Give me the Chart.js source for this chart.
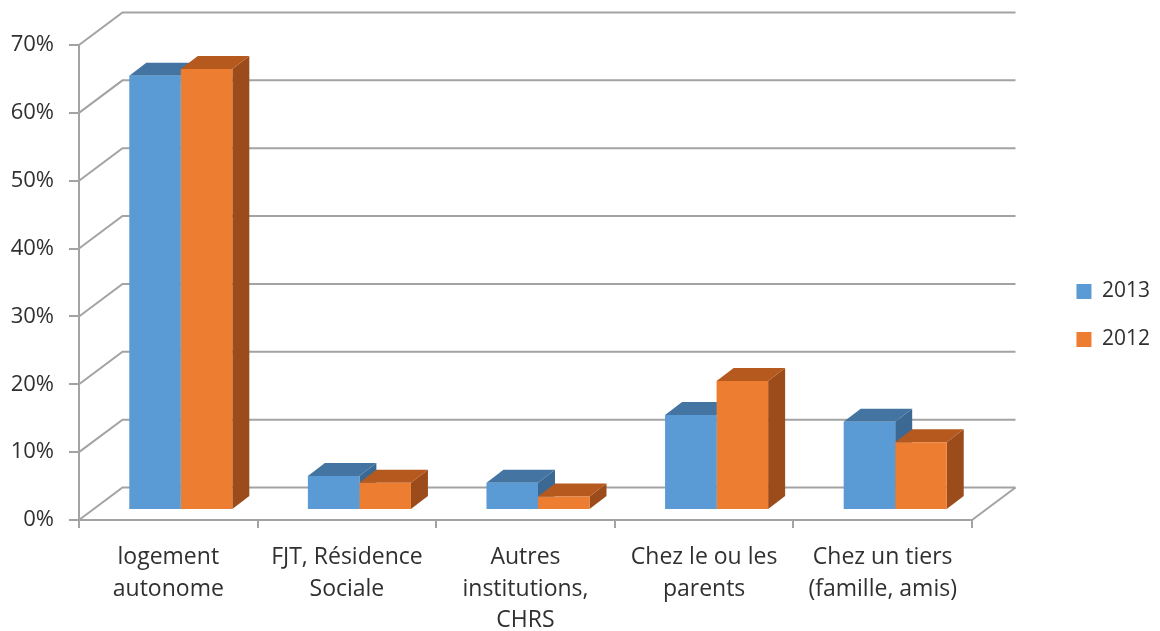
<!DOCTYPE html>
<html>
<head>
<meta charset="utf-8">
<script src="https://cdn.jsdelivr.net/npm/chart.js@4.4.1/dist/chart.umd.min.js"></script>
<style>
html,body{margin:0;padding:0;background:#ffffff;}
canvas{display:block;}
</style>
</head>
<body>
<canvas id="c" width="1160" height="631"></canvas>
<script>
// ---- data ----
const categories = [
  ['logement', 'autonome'],
  ['FJT, Résidence', 'Sociale'],
  ['Autres', 'institutions,', 'CHRS'],
  ['Chez le ou les', 'parents'],
  ['Chez un tiers', '(famille, amis)']
];
const seriesNames = ['2013', '2012'];
const values2013 = [64, 5, 4, 14, 13];
const values2012 = [65, 4, 2, 19, 10];
const yTickMin = 0, yTickMax = 70, yTickStep = 10;

// ---- style / layout ----
const FONT = '"Open Sans", "Noto Sans", sans-serif';
const TEXT = '#303030';
const GRID = '#a3a3a3';
const FRONT_LEFT = 79, FRONT_TOP = 45, FRONT_RIGHT = 972, FRONT_BOTTOM = 520, CANVAS_H = 631;
const DEPTH = {x: 43.5, y: -32.5};      // wall depth
const BAR_SHIFT = {x: 12.5, y: -10};    // bars placed inside the box
const BAR_DEPTH = {x: 17, y: -13};      // bar thickness
const faceColors = [
  {front: '#5b9bd5', top: '#4374a2', side: '#3b6993'},
  {front: '#ed7d31', top: '#b5591f', side: '#9c4b1a'}
];
let rightGap = 80;

function poly(ctx, pts, fill) {
  ctx.beginPath();
  ctx.moveTo(pts[0][0], pts[0][1]);
  for (let i = 1; i < pts.length; i++) ctx.lineTo(pts[i][0], pts[i][1]);
  ctx.closePath();
  ctx.fillStyle = fill;
  ctx.fill();
}

const threeD = {
  id: 'threeD',
  beforeDatasetsDraw(chart) {
    const {ctx, chartArea: a} = chart;
    const ys = chart.scales.y;
    ctx.save();
    ctx.strokeStyle = GRID;
    ctx.lineWidth = 2;
    ctx.lineJoin = 'miter';
    ys.ticks.forEach(t => {
      const py = ys.getPixelForValue(t.value);
      ctx.beginPath();
      ctx.moveTo(a.left, py);
      ctx.lineTo(a.left + DEPTH.x, py + DEPTH.y);
      ctx.lineTo(a.right + DEPTH.x, py + DEPTH.y);
      ctx.stroke();
    });
    ctx.beginPath();
    ctx.moveTo(a.right, a.bottom);
    ctx.lineTo(a.right + DEPTH.x, a.bottom + DEPTH.y);
    ctx.stroke();
    ctx.restore();

    ctx.save();
    ctx.translate(BAR_SHIFT.x, BAR_SHIFT.y);
    const metas = chart.getSortedVisibleDatasetMetas();
    const n = chart.data.labels.length;
    const dx = BAR_DEPTH.x, dy = BAR_DEPTH.y;
    for (let i = 0; i < n; i++) {
      metas.forEach(m => {
        const el = m.data[i];
        if (!el) return;
        const p = el.getProps(['x', 'y', 'base', 'width'], true);
        const l = p.x - p.width / 2, r = p.x + p.width / 2;
        const c = faceColors[m.index];
        poly(ctx, [[r, p.y], [r + dx, p.y + dy], [r + dx, p.base + dy], [r, p.base]], c.side);
        poly(ctx, [[l, p.y], [r, p.y], [r + dx, p.y + dy], [l + dx, p.y + dy]], c.top);
      });
    }
    ctx.restore();

    ctx.save();
    ctx.translate(BAR_SHIFT.x, BAR_SHIFT.y);
  },
  afterDatasetsDraw(chart) {
    chart.ctx.restore();
  }
};

const chart = new Chart(document.getElementById('c'), {
  type: 'bar',
  data: {
    labels: categories,
    datasets: [
      {label: seriesNames[0], data: values2013, backgroundColor: faceColors[0].front, borderWidth: 0,
       xAxisID: 'x', yAxisID: 'y', categoryPercentage: 0.577, barPercentage: 1.0, clip: false},
      {label: seriesNames[1], data: values2012, backgroundColor: faceColors[1].front, borderWidth: 0,
       xAxisID: 'x', yAxisID: 'y', categoryPercentage: 0.577, barPercentage: 1.0, clip: false}
    ]
  },
  plugins: [threeD],
  options: {
    responsive: false,
    animation: false,
    devicePixelRatio: 1,
    layout: {padding: 0},
    plugins: {
      tooltip: {enabled: false},
      title: {display: false},
      legend: {
        display: true,
        position: 'right',
        align: 'center',
        labels: {
          boxWidth: 15,
          boxHeight: 15,
          padding: 27,
          color: TEXT,
          font: {family: FONT, size: 21}
        }
      }
    },
    scales: {
      x: {
        type: 'category',
        position: 'bottom',
        offset: true,
        grid: {display: true, offset: true, drawOnChartArea: false, drawTicks: true, tickLength: 8, color: GRID, lineWidth: 2},
        border: {display: true, color: GRID, width: 2},
        ticks: {color: TEXT, font: {family: FONT, size: 23, lineHeight: 1.39}, padding: 13, maxRotation: 0, autoSkip: false},
        afterFit(s) { s.height = CANVAS_H - FRONT_BOTTOM; }
      },
      y: {
        type: 'linear',
        position: 'left',
        min: yTickMin,
        max: yTickMax,
        ticks: {stepSize: yTickStep, color: TEXT, font: {family: FONT, size: 22}, padding: 15,
                callback: v => v + '%'},
        grid: {display: true, drawOnChartArea: false, drawTicks: true, tickLength: 10, color: GRID, lineWidth: 2},
        border: {display: true, color: GRID, width: 2},
        afterFit(s) { s.width = FRONT_LEFT; }
      },
      x2: {
        type: 'category',
        position: 'top',
        display: true,
        grid: {display: false},
        border: {display: false},
        ticks: {display: false},
        afterFit(s) { s.height = FRONT_TOP; }
      },
      y2: {
        type: 'linear',
        position: 'right',
        display: true,
        grid: {display: false},
        border: {display: false},
        ticks: {display: false},
        afterFit(s) { s.width = rightGap; }
      }
    }
  }
});
rightGap += chart.chartArea.right - FRONT_RIGHT;
chart.update();
</script>
</body>
</html>
